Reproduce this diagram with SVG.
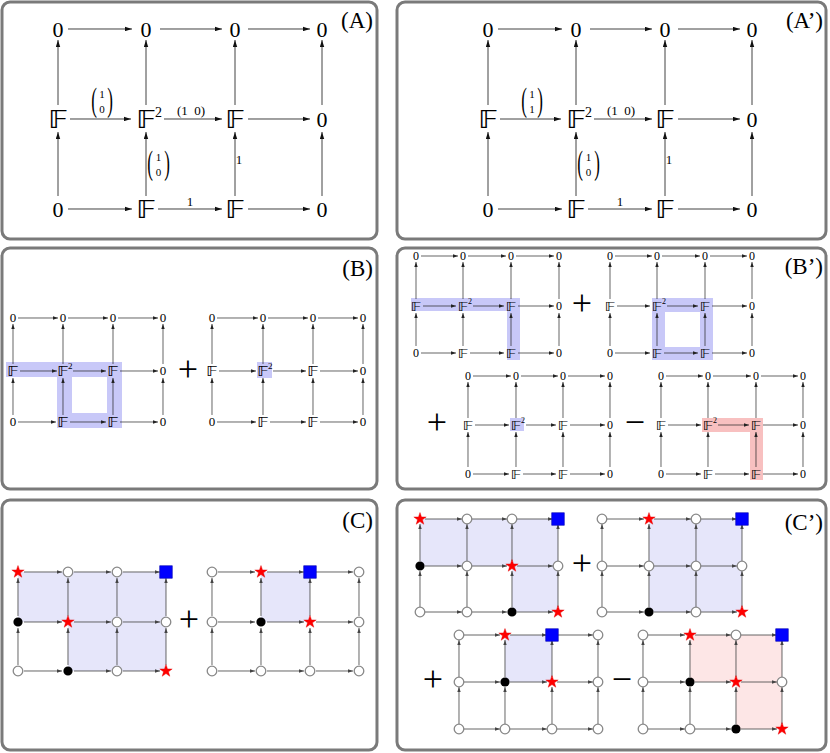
<svg xmlns="http://www.w3.org/2000/svg" xmlns:xlink="http://www.w3.org/1999/xlink" width="830" height="753" viewBox="0 0 830 753">
<defs>
<style>
text{fill:#000}
.box{fill:#fff;stroke:#7a7a7a;stroke-width:3}
.lbl{font-family:"Liberation Serif",serif;font-size:23px;text-anchor:end}
.n{font-family:"Liberation Serif",serif;font-size:22px;text-anchor:middle}
.f,.fs,.fs2{font-family:"DejaVu Sans","DejaVu Serif",serif;text-anchor:middle;transform-box:fill-box;transform-origin:center;transform:scaleX(1.25)}
.f{font-size:24px}
.fs{font-size:14px}
.fs2{font-size:13px}
.sup{font-family:"Liberation Serif",serif;font-size:14px}
.lab{font-family:"Liberation Serif",serif;font-size:13px;text-anchor:middle}
.par{font-family:"Liberation Serif",serif;font-size:17px;text-anchor:middle}
.cv{font-family:"Liberation Serif",serif;font-size:11px;text-anchor:middle}
.ns{font-family:"Liberation Serif",serif;font-size:13px;text-anchor:middle}
.sups{font-family:"Liberation Serif",serif;font-size:9px}
.ns2{font-family:"Liberation Serif",serif;font-size:12px;text-anchor:middle}
.sups2{font-family:"Liberation Serif",serif;font-size:8px}
.op{font-family:"Liberation Serif",serif;font-size:36px;text-anchor:middle}
.ca line{stroke:#111;stroke-width:0.8;marker-end:url(#ah)}
.cb line{stroke:#222;stroke-width:0.7;marker-end:url(#ahs)}
.cc line{stroke:#555;stroke-width:0.9;marker-end:url(#ahc)}
.hb{fill:#c8c8f8}
.hr{fill:#f8c0c0}
.sb{fill:#e6e6fa}
.sr{fill:#fde6e6}
</style>
<marker id="ah" markerWidth="7" markerHeight="5" refX="7" refY="2.5" orient="auto" markerUnits="userSpaceOnUse"><path d="M0,0.3 L7,2.5 L0,4.7 Z" fill="#111"/></marker>
<marker id="ahs" markerWidth="5" markerHeight="4" refX="5" refY="2" orient="auto" markerUnits="userSpaceOnUse"><path d="M0,0.3 L5,2 L0,3.7 Z" fill="#222"/></marker>
<marker id="ahc" markerWidth="5" markerHeight="4" refX="5" refY="2" orient="auto" markerUnits="userSpaceOnUse"><path d="M0,0.3 L5,2 L0,3.7 Z" fill="#444"/></marker>
<circle id="oc" r="4.8" fill="#fff" stroke="#888" stroke-width="1.3"/>
<circle id="bc" r="4.6" fill="#000"/>
<path id="st" d="M0,-6.5 L1.53,-2.1 L6.18,-2.01 L2.47,0.8 L3.82,5.26 L0,2.6 L-3.82,5.26 L-2.47,0.8 L-6.18,-2.01 L-1.53,-2.1 Z" fill="#f00" stroke="#d00" stroke-width="0.4"/>
<rect id="sq" x="-6.3" y="-6.3" width="12.6" height="12.6" fill="#0000ff" stroke="#0000b0" stroke-width="0.6"/>
</defs>
<g transform="rotate(0.001 415 376)">

<!-- Panel A -->
<g id="panelA">
<rect class="box" x="2" y="2" width="375" height="237" rx="8"/>
<text class="lbl" x="373" y="28">(A)</text>
<g id="A-connectors" class="ca">
<line x1="68" y1="29" x2="132" y2="29"/><line x1="160" y1="29" x2="222" y2="29"/><line x1="248" y1="29" x2="310" y2="29"/>
<line x1="70" y1="119" x2="131" y2="119"/><line x1="164" y1="119" x2="222" y2="119"/><line x1="248" y1="119" x2="310" y2="119"/>
<line x1="68" y1="209" x2="132" y2="209"/><line x1="158" y1="209" x2="222" y2="209"/><line x1="248" y1="209" x2="310" y2="209"/>
<line x1="58" y1="105" x2="58" y2="40"/><line x1="146" y1="105" x2="146" y2="40"/><line x1="235" y1="105" x2="235" y2="40"/><line x1="322" y1="105" x2="322" y2="40"/>
<line x1="58" y1="196" x2="58" y2="132"/><line x1="146" y1="196" x2="146" y2="132"/><line x1="235" y1="196" x2="235" y2="132"/><line x1="322" y1="196" x2="322" y2="132"/>
</g>
<g id="A-labels">
<text class="par" transform="translate(94,111) scale(1,2)">(</text><text class="par" transform="translate(110,111) scale(1,2)">)</text>
<text class="cv" x="102" y="98">1</text><text class="cv" x="102" y="113">0</text>
<text class="lab" x="191" y="115">(1&#160;&#160;0)</text>
<text class="par" transform="translate(150,174) scale(1,2)">(</text><text class="par" transform="translate(167,174) scale(1,2)">)</text>
<text class="cv" x="158.5" y="161">1</text><text class="cv" x="158.5" y="176">0</text>
<text class="lab" x="239" y="164">1</text>
<text class="lab" x="190" y="206">1</text>
</g>
<g id="A-n00"><text class="n" x="58" y="37">0</text></g>
<g id="A-n01"><text class="n" x="146" y="37">0</text></g>
<g id="A-n02"><text class="n" x="235" y="37">0</text></g>
<g id="A-n03"><text class="n" x="322" y="37">0</text></g>
<g id="A-n10"><text class="f" x="58" y="128">𝔽</text></g>
<g id="A-n11"><text class="f" x="146" y="128">𝔽</text><text class="sup" x="155" y="117">2</text></g>
<g id="A-n12"><text class="f" x="235" y="128">𝔽</text></g>
<g id="A-n13"><text class="n" x="322" y="127">0</text></g>
<g id="A-n20"><text class="n" x="58" y="217">0</text></g>
<g id="A-n21"><text class="f" x="146" y="218">𝔽</text></g>
<g id="A-n22"><text class="f" x="235" y="218">𝔽</text></g>
<g id="A-n23"><text class="n" x="322" y="217">0</text></g>
</g>

<!-- Panel A' -->
<g id="panelA2">
<rect class="box" x="397" y="2" width="429" height="237" rx="8"/>
<text class="lbl" x="823" y="28">(A’)</text>
<g transform="translate(430,0)">
<g id="A2-connectors" class="ca">
<line x1="68" y1="29" x2="132" y2="29"/><line x1="160" y1="29" x2="222" y2="29"/><line x1="248" y1="29" x2="310" y2="29"/>
<line x1="70" y1="119" x2="131" y2="119"/><line x1="164" y1="119" x2="222" y2="119"/><line x1="248" y1="119" x2="310" y2="119"/>
<line x1="68" y1="209" x2="132" y2="209"/><line x1="158" y1="209" x2="222" y2="209"/><line x1="248" y1="209" x2="310" y2="209"/>
<line x1="58" y1="105" x2="58" y2="40"/><line x1="146" y1="105" x2="146" y2="40"/><line x1="235" y1="105" x2="235" y2="40"/><line x1="322" y1="105" x2="322" y2="40"/>
<line x1="58" y1="196" x2="58" y2="132"/><line x1="146" y1="196" x2="146" y2="132"/><line x1="235" y1="196" x2="235" y2="132"/><line x1="322" y1="196" x2="322" y2="132"/>
</g>
<g id="A2-labels">
<text class="par" transform="translate(94,111) scale(1,2)">(</text><text class="par" transform="translate(110,111) scale(1,2)">)</text>
<text class="cv" x="102" y="98">1</text><text class="cv" x="102" y="113">1</text>
<text class="lab" x="191" y="115">(1&#160;&#160;0)</text>
<text class="par" transform="translate(150,174) scale(1,2)">(</text><text class="par" transform="translate(167,174) scale(1,2)">)</text>
<text class="cv" x="158.5" y="161">1</text><text class="cv" x="158.5" y="176">0</text>
<text class="lab" x="239" y="164">1</text>
<text class="lab" x="190" y="206">1</text>
</g>
<g id="A2-n00"><text class="n" x="58" y="37">0</text></g>
<g id="A2-n01"><text class="n" x="146" y="37">0</text></g>
<g id="A2-n02"><text class="n" x="235" y="37">0</text></g>
<g id="A2-n03"><text class="n" x="322" y="37">0</text></g>
<g id="A2-n10"><text class="f" x="58" y="128">𝔽</text></g>
<g id="A2-n11"><text class="f" x="146" y="128">𝔽</text><text class="sup" x="155" y="117">2</text></g>
<g id="A2-n12"><text class="f" x="235" y="128">𝔽</text></g>
<g id="A2-n13"><text class="n" x="322" y="127">0</text></g>
<g id="A2-n20"><text class="n" x="58" y="217">0</text></g>
<g id="A2-n21"><text class="f" x="146" y="218">𝔽</text></g>
<g id="A2-n22"><text class="f" x="235" y="218">𝔽</text></g>
<g id="A2-n23"><text class="n" x="322" y="217">0</text></g>
</g>
</g>

<!-- Panel B -->
<g id="panelB">
<rect class="box" x="2" y="248" width="375" height="241" rx="8"/>
<text class="lbl" x="373" y="276">(B)</text>
<path class="hb" fill-rule="evenodd" d="M6,362 H122 V428 H57 V377 H6 Z M72,377 V413 H107 V377 Z"/>
<rect class="hb" x="257" y="362" width="15" height="16"/>
<g id="B-connectors" class="cb">
<line x1="18" y1="318" x2="58" y2="318"/><line x1="68" y1="318" x2="108" y2="318"/><line x1="118" y1="318" x2="158" y2="318"/>
<line x1="20" y1="371" x2="57" y2="371"/><line x1="73" y1="371" x2="106" y2="371"/><line x1="120" y1="371" x2="158" y2="371"/>
<line x1="18" y1="422" x2="56" y2="422"/><line x1="70" y1="422" x2="106" y2="422"/><line x1="120" y1="422" x2="158" y2="422"/>
<line x1="13" y1="415" x2="13" y2="378"/><line x1="63" y1="415" x2="63" y2="378"/><line x1="113" y1="415" x2="113" y2="378"/><line x1="163" y1="415" x2="163" y2="378"/>
<line x1="13" y1="364" x2="13" y2="324"/><line x1="63" y1="364" x2="63" y2="324"/><line x1="113" y1="364" x2="113" y2="324"/><line x1="163" y1="364" x2="163" y2="324"/>
<line x1="217" y1="318" x2="258" y2="318"/><line x1="268" y1="318" x2="308" y2="318"/><line x1="318" y1="318" x2="358" y2="318"/>
<line x1="219" y1="371" x2="256" y2="371"/><line x1="273" y1="371" x2="306" y2="371"/><line x1="320" y1="371" x2="358" y2="371"/>
<line x1="217" y1="422" x2="256" y2="422"/><line x1="270" y1="422" x2="306" y2="422"/><line x1="320" y1="422" x2="358" y2="422"/>
<line x1="212" y1="415" x2="212" y2="378"/><line x1="263" y1="415" x2="263" y2="378"/><line x1="313" y1="415" x2="313" y2="378"/><line x1="363" y1="415" x2="363" y2="378"/>
<line x1="212" y1="364" x2="212" y2="324"/><line x1="263" y1="364" x2="263" y2="324"/><line x1="313" y1="364" x2="313" y2="324"/><line x1="363" y1="364" x2="363" y2="324"/>
</g>
<g id="B1-n00"><text class="ns" x="13" y="322.5">0</text></g>
<g id="B1-n01"><text class="ns" x="63" y="322.5">0</text></g>
<g id="B1-n02"><text class="ns" x="113" y="322.5">0</text></g>
<g id="B1-n03"><text class="ns" x="163" y="322.5">0</text></g>
<g id="B1-n10"><text class="fs" x="13" y="376">𝔽</text></g>
<g id="B1-n11"><text class="fs" x="63" y="376">𝔽</text><text class="sups" x="68" y="369">2</text></g>
<g id="B1-n12"><text class="fs" x="113" y="376">𝔽</text></g>
<g id="B1-n13"><text class="ns" x="163" y="375.5">0</text></g>
<g id="B1-n20"><text class="ns" x="13" y="426.5">0</text></g>
<g id="B1-n21"><text class="fs" x="63" y="427">𝔽</text></g>
<g id="B1-n22"><text class="fs" x="113" y="427">𝔽</text></g>
<g id="B1-n23"><text class="ns" x="163" y="426.5">0</text></g>
<text class="op" x="188" y="381">+</text>
<g id="B2-n00"><text class="ns" x="212" y="322.5">0</text></g>
<g id="B2-n01"><text class="ns" x="263" y="322.5">0</text></g>
<g id="B2-n02"><text class="ns" x="313" y="322.5">0</text></g>
<g id="B2-n03"><text class="ns" x="363" y="322.5">0</text></g>
<g id="B2-n10"><text class="fs" x="212" y="376">𝔽</text></g>
<g id="B2-n11"><text class="fs" x="263" y="376">𝔽</text><text class="sups" x="268" y="369">2</text></g>
<g id="B2-n12"><text class="fs" x="313" y="376">𝔽</text></g>
<g id="B2-n13"><text class="ns" x="363" y="375.5">0</text></g>
<g id="B2-n20"><text class="ns" x="212" y="426.5">0</text></g>
<g id="B2-n21"><text class="fs" x="263" y="427">𝔽</text></g>
<g id="B2-n22"><text class="fs" x="313" y="427">𝔽</text></g>
<g id="B2-n23"><text class="ns" x="363" y="426.5">0</text></g>
</g>

<!-- Panel B' -->
<g id="panelB2">
<rect class="box" x="397" y="248" width="429" height="241" rx="8"/>
<text class="lbl" x="823" y="274">(B’)</text>
<path class="hb" d="M411,298 H520 V360 H507 V311 H411 Z"/>
<path class="hb" fill-rule="evenodd" d="M652,298 H713 V360 H652 Z M665,312 V347 H700 V312 Z"/>
<rect class="hb" x="510" y="418" width="14" height="13"/>
<path class="hr" d="M702,418 H763 V480 H750 V432 H702 Z"/>
<g id="B2-connectors" class="cb">
<line x1="421" y1="256" x2="458" y2="256"/><line x1="468" y1="256" x2="506" y2="256"/><line x1="516" y1="256" x2="554" y2="256"/>
<line x1="423" y1="306" x2="456" y2="306"/><line x1="473" y1="306" x2="504" y2="306"/><line x1="518" y1="306" x2="554" y2="306"/>
<line x1="421" y1="353" x2="456" y2="353"/><line x1="470" y1="353" x2="504" y2="353"/><line x1="518" y1="353" x2="554" y2="353"/>
<line x1="416" y1="346" x2="416" y2="313"/><line x1="463" y1="346" x2="463" y2="313"/><line x1="511" y1="346" x2="511" y2="313"/><line x1="559" y1="346" x2="559" y2="313"/>
<line x1="416" y1="299" x2="416" y2="262"/><line x1="463" y1="299" x2="463" y2="262"/><line x1="511" y1="299" x2="511" y2="262"/><line x1="559" y1="299" x2="559" y2="262"/>
<line x1="615" y1="256" x2="652" y2="256"/><line x1="662" y1="256" x2="700" y2="256"/><line x1="710" y1="256" x2="747" y2="256"/>
<line x1="617" y1="306" x2="650" y2="306"/><line x1="667" y1="306" x2="698" y2="306"/><line x1="712" y1="306" x2="747" y2="306"/>
<line x1="615" y1="353" x2="650" y2="353"/><line x1="664" y1="353" x2="698" y2="353"/><line x1="712" y1="353" x2="747" y2="353"/>
<line x1="610" y1="346" x2="610" y2="313"/><line x1="657" y1="346" x2="657" y2="313"/><line x1="705" y1="346" x2="705" y2="313"/><line x1="752" y1="346" x2="752" y2="313"/>
<line x1="610" y1="299" x2="610" y2="262"/><line x1="657" y1="299" x2="657" y2="262"/><line x1="705" y1="299" x2="705" y2="262"/><line x1="752" y1="299" x2="752" y2="262"/>
<line x1="473" y1="376" x2="511" y2="376"/><line x1="521" y1="376" x2="558" y2="376"/><line x1="568" y1="376" x2="605" y2="376"/>
<line x1="475" y1="425" x2="509" y2="425"/><line x1="526" y1="425" x2="556" y2="425"/><line x1="570" y1="425" x2="605" y2="425"/>
<line x1="473" y1="474" x2="509" y2="474"/><line x1="523" y1="474" x2="556" y2="474"/><line x1="570" y1="474" x2="605" y2="474"/>
<line x1="468" y1="467" x2="468" y2="432"/><line x1="516" y1="467" x2="516" y2="432"/><line x1="563" y1="467" x2="563" y2="432"/><line x1="610" y1="467" x2="610" y2="432"/>
<line x1="468" y1="418" x2="468" y2="382"/><line x1="516" y1="418" x2="516" y2="382"/><line x1="563" y1="418" x2="563" y2="382"/><line x1="610" y1="418" x2="610" y2="382"/>
<line x1="666" y1="376" x2="703" y2="376"/><line x1="713" y1="376" x2="751" y2="376"/><line x1="761" y1="376" x2="798" y2="376"/>
<line x1="668" y1="425" x2="701" y2="425"/><line x1="718" y1="425" x2="749" y2="425"/><line x1="763" y1="425" x2="798" y2="425"/>
<line x1="666" y1="474" x2="701" y2="474"/><line x1="715" y1="474" x2="749" y2="474"/><line x1="763" y1="474" x2="798" y2="474"/>
<line x1="661" y1="467" x2="661" y2="432"/><line x1="708" y1="467" x2="708" y2="432"/><line x1="756" y1="467" x2="756" y2="432"/><line x1="803" y1="467" x2="803" y2="432"/>
<line x1="661" y1="418" x2="661" y2="382"/><line x1="708" y1="418" x2="708" y2="382"/><line x1="756" y1="418" x2="756" y2="382"/><line x1="803" y1="418" x2="803" y2="382"/>
</g>
<g id="B3-n00"><text class="ns2" x="416" y="260">0</text></g>
<g id="B3-n01"><text class="ns2" x="463" y="260">0</text></g>
<g id="B3-n02"><text class="ns2" x="511" y="260">0</text></g>
<g id="B3-n03"><text class="ns2" x="559" y="260">0</text></g>
<g id="B3-n10"><text class="fs2" x="416" y="311">𝔽</text></g>
<g id="B3-n11"><text class="fs2" x="463" y="311">𝔽</text><text class="sups2" x="468" y="304">2</text></g>
<g id="B3-n12"><text class="fs2" x="511" y="311">𝔽</text></g>
<g id="B3-n13"><text class="ns2" x="559" y="310">0</text></g>
<g id="B3-n20"><text class="ns2" x="416" y="357">0</text></g>
<g id="B3-n21"><text class="fs2" x="463" y="358">𝔽</text></g>
<g id="B3-n22"><text class="fs2" x="511" y="358">𝔽</text></g>
<g id="B3-n23"><text class="ns2" x="559" y="357">0</text></g>
<text class="op" x="582" y="315">+</text>
<g id="B4-n00"><text class="ns2" x="610" y="260">0</text></g>
<g id="B4-n01"><text class="ns2" x="657" y="260">0</text></g>
<g id="B4-n02"><text class="ns2" x="705" y="260">0</text></g>
<g id="B4-n03"><text class="ns2" x="752" y="260">0</text></g>
<g id="B4-n10"><text class="fs2" x="610" y="311">𝔽</text></g>
<g id="B4-n11"><text class="fs2" x="657" y="311">𝔽</text><text class="sups2" x="662" y="304">2</text></g>
<g id="B4-n12"><text class="fs2" x="705" y="311">𝔽</text></g>
<g id="B4-n13"><text class="ns2" x="752" y="310">0</text></g>
<g id="B4-n20"><text class="ns2" x="610" y="357">0</text></g>
<g id="B4-n21"><text class="fs2" x="657" y="358">𝔽</text></g>
<g id="B4-n22"><text class="fs2" x="705" y="358">𝔽</text></g>
<g id="B4-n23"><text class="ns2" x="752" y="357">0</text></g>
<text class="op" x="437" y="434">+</text>
<g id="B5-n00"><text class="ns2" x="468" y="380">0</text></g>
<g id="B5-n01"><text class="ns2" x="516" y="380">0</text></g>
<g id="B5-n02"><text class="ns2" x="563" y="380">0</text></g>
<g id="B5-n03"><text class="ns2" x="610" y="380">0</text></g>
<g id="B5-n10"><text class="fs2" x="468" y="430">𝔽</text></g>
<g id="B5-n11"><text class="fs2" x="516" y="430">𝔽</text><text class="sups2" x="521" y="423">2</text></g>
<g id="B5-n12"><text class="fs2" x="563" y="430">𝔽</text></g>
<g id="B5-n13"><text class="ns2" x="610" y="429">0</text></g>
<g id="B5-n20"><text class="ns2" x="468" y="478">0</text></g>
<g id="B5-n21"><text class="fs2" x="516" y="479">𝔽</text></g>
<g id="B5-n22"><text class="fs2" x="563" y="479">𝔽</text></g>
<g id="B5-n23"><text class="ns2" x="610" y="478">0</text></g>
<text class="op" x="635" y="434">−</text>
<g id="B6-n00"><text class="ns2" x="661" y="380">0</text></g>
<g id="B6-n01"><text class="ns2" x="708" y="380">0</text></g>
<g id="B6-n02"><text class="ns2" x="756" y="380">0</text></g>
<g id="B6-n03"><text class="ns2" x="803" y="380">0</text></g>
<g id="B6-n10"><text class="fs2" x="661" y="430">𝔽</text></g>
<g id="B6-n11"><text class="fs2" x="708" y="430">𝔽</text><text class="sups2" x="713" y="423">2</text></g>
<g id="B6-n12"><text class="fs2" x="756" y="430">𝔽</text></g>
<g id="B6-n13"><text class="ns2" x="803" y="429">0</text></g>
<g id="B6-n20"><text class="ns2" x="661" y="478">0</text></g>
<g id="B6-n21"><text class="fs2" x="708" y="479">𝔽</text></g>
<g id="B6-n22"><text class="fs2" x="756" y="479">𝔽</text></g>
<g id="B6-n23"><text class="ns2" x="803" y="478">0</text></g>
</g>

<!-- Panel C -->
<g id="panelC">
<rect class="box" x="2" y="500" width="375" height="250" rx="8"/>
<text class="lbl" x="373" y="528">(C)</text>
<path class="sb" d="M18,572 H166 V671 H68 V622 H18 Z"/>
<rect class="sb" x="261" y="572" width="49" height="50"/>
<g id="C-connectors" class="cc">
<line x1="24" y1="572" x2="62" y2="572"/><line x1="74" y1="572" x2="111" y2="572"/><line x1="123" y1="572" x2="160" y2="572"/>
<line x1="24" y1="622" x2="62" y2="622"/><line x1="74" y1="622" x2="111" y2="622"/><line x1="123" y1="622" x2="160" y2="622"/>
<line x1="24" y1="671" x2="62" y2="671"/><line x1="74" y1="671" x2="111" y2="671"/><line x1="123" y1="671" x2="160" y2="671"/>
<line x1="18" y1="616" x2="18" y2="578"/><line x1="68" y1="616" x2="68" y2="578"/><line x1="117" y1="616" x2="117" y2="578"/><line x1="166" y1="616" x2="166" y2="578"/>
<line x1="18" y1="665" x2="18" y2="628"/><line x1="68" y1="665" x2="68" y2="628"/><line x1="117" y1="665" x2="117" y2="628"/><line x1="166" y1="665" x2="166" y2="628"/>
<line x1="218" y1="572" x2="255" y2="572"/><line x1="267" y1="572" x2="304" y2="572"/><line x1="316" y1="572" x2="353" y2="572"/>
<line x1="218" y1="622" x2="255" y2="622"/><line x1="267" y1="622" x2="304" y2="622"/><line x1="316" y1="622" x2="353" y2="622"/>
<line x1="218" y1="671" x2="255" y2="671"/><line x1="267" y1="671" x2="304" y2="671"/><line x1="316" y1="671" x2="353" y2="671"/>
<line x1="212" y1="616" x2="212" y2="578"/><line x1="261" y1="616" x2="261" y2="578"/><line x1="310" y1="616" x2="310" y2="578"/><line x1="359" y1="616" x2="359" y2="578"/>
<line x1="212" y1="665" x2="212" y2="628"/><line x1="261" y1="665" x2="261" y2="628"/><line x1="310" y1="665" x2="310" y2="628"/><line x1="359" y1="665" x2="359" y2="628"/>
</g>
<g id="C1-n00"><use xlink:href="#st" x="18" y="572"/></g>
<g id="C1-n01"><use xlink:href="#oc" x="68" y="572"/></g>
<g id="C1-n02"><use xlink:href="#oc" x="117" y="572"/></g>
<g id="C1-n03"><use xlink:href="#sq" x="166" y="572"/></g>
<g id="C1-n10"><use xlink:href="#bc" x="18" y="622"/></g>
<g id="C1-n11"><use xlink:href="#st" x="68" y="622"/></g>
<g id="C1-n12"><use xlink:href="#oc" x="117" y="622"/></g>
<g id="C1-n13"><use xlink:href="#oc" x="166" y="622"/></g>
<g id="C1-n20"><use xlink:href="#oc" x="18" y="671"/></g>
<g id="C1-n21"><use xlink:href="#bc" x="68" y="671"/></g>
<g id="C1-n22"><use xlink:href="#oc" x="117" y="671"/></g>
<g id="C1-n23"><use xlink:href="#st" x="166" y="671"/></g>
<text class="op" x="189" y="631">+</text>
<g id="C2-n00"><use xlink:href="#oc" x="212" y="572"/></g>
<g id="C2-n01"><use xlink:href="#st" x="261" y="572"/></g>
<g id="C2-n02"><use xlink:href="#sq" x="310" y="572"/></g>
<g id="C2-n03"><use xlink:href="#oc" x="359" y="572"/></g>
<g id="C2-n10"><use xlink:href="#oc" x="212" y="622"/></g>
<g id="C2-n11"><use xlink:href="#bc" x="261" y="622"/></g>
<g id="C2-n12"><use xlink:href="#st" x="310" y="622"/></g>
<g id="C2-n13"><use xlink:href="#oc" x="359" y="622"/></g>
<g id="C2-n20"><use xlink:href="#oc" x="212" y="671"/></g>
<g id="C2-n21"><use xlink:href="#oc" x="261" y="671"/></g>
<g id="C2-n22"><use xlink:href="#oc" x="310" y="671"/></g>
<g id="C2-n23"><use xlink:href="#oc" x="359" y="671"/></g>
</g>

<!-- Panel C' -->
<g id="panelC2">
<rect class="box" x="397" y="500" width="429" height="250" rx="8"/>
<text class="lbl" x="823" y="530">(C’)</text>
<path class="sb" d="M420,519 H558 V612 H512 V566 H420 Z"/>
<rect class="sb" x="649" y="519" width="93" height="93"/>
<rect class="sb" x="505" y="635" width="47" height="47"/>
<path class="sr" d="M690,635 H782 V729 H736 V682 H690 Z"/>
<g id="C2-connectors" class="cc">
<line x1="425" y1="519" x2="462" y2="519"/><line x1="472" y1="519" x2="507" y2="519"/><line x1="517" y1="519" x2="553" y2="519"/>
<line x1="425" y1="566" x2="462" y2="566"/><line x1="472" y1="566" x2="507" y2="566"/><line x1="517" y1="566" x2="553" y2="566"/>
<line x1="425" y1="612" x2="462" y2="612"/><line x1="472" y1="612" x2="507" y2="612"/><line x1="517" y1="612" x2="553" y2="612"/>
<line x1="420" y1="561" x2="420" y2="524"/><line x1="467" y1="561" x2="467" y2="524"/><line x1="512" y1="561" x2="512" y2="524"/><line x1="558" y1="561" x2="558" y2="524"/>
<line x1="420" y1="607" x2="420" y2="571"/><line x1="467" y1="607" x2="467" y2="571"/><line x1="512" y1="607" x2="512" y2="571"/><line x1="558" y1="607" x2="558" y2="571"/>
<line x1="607" y1="519" x2="644" y2="519"/><line x1="654" y1="519" x2="691" y2="519"/><line x1="701" y1="519" x2="737" y2="519"/>
<line x1="607" y1="566" x2="644" y2="566"/><line x1="654" y1="566" x2="691" y2="566"/><line x1="701" y1="566" x2="737" y2="566"/>
<line x1="607" y1="612" x2="644" y2="612"/><line x1="654" y1="612" x2="691" y2="612"/><line x1="701" y1="612" x2="737" y2="612"/>
<line x1="602" y1="561" x2="602" y2="524"/><line x1="649" y1="561" x2="649" y2="524"/><line x1="696" y1="561" x2="696" y2="524"/><line x1="742" y1="561" x2="742" y2="524"/>
<line x1="602" y1="607" x2="602" y2="571"/><line x1="649" y1="607" x2="649" y2="571"/><line x1="696" y1="607" x2="696" y2="571"/><line x1="742" y1="607" x2="742" y2="571"/>
<line x1="464" y1="635" x2="500" y2="635"/><line x1="510" y1="635" x2="547" y2="635"/><line x1="557" y1="635" x2="593" y2="635"/>
<line x1="464" y1="682" x2="500" y2="682"/><line x1="510" y1="682" x2="547" y2="682"/><line x1="557" y1="682" x2="593" y2="682"/>
<line x1="464" y1="729" x2="500" y2="729"/><line x1="510" y1="729" x2="547" y2="729"/><line x1="557" y1="729" x2="593" y2="729"/>
<line x1="459" y1="677" x2="459" y2="640"/><line x1="505" y1="677" x2="505" y2="640"/><line x1="552" y1="677" x2="552" y2="640"/><line x1="598" y1="677" x2="598" y2="640"/>
<line x1="459" y1="724" x2="459" y2="687"/><line x1="505" y1="724" x2="505" y2="687"/><line x1="552" y1="724" x2="552" y2="687"/><line x1="598" y1="724" x2="598" y2="687"/>
<line x1="648" y1="635" x2="685" y2="635"/><line x1="695" y1="635" x2="731" y2="635"/><line x1="741" y1="635" x2="777" y2="635"/>
<line x1="648" y1="682" x2="685" y2="682"/><line x1="695" y1="682" x2="731" y2="682"/><line x1="741" y1="682" x2="777" y2="682"/>
<line x1="648" y1="729" x2="685" y2="729"/><line x1="695" y1="729" x2="731" y2="729"/><line x1="741" y1="729" x2="777" y2="729"/>
<line x1="643" y1="677" x2="643" y2="640"/><line x1="690" y1="677" x2="690" y2="640"/><line x1="736" y1="677" x2="736" y2="640"/><line x1="782" y1="677" x2="782" y2="640"/>
<line x1="643" y1="724" x2="643" y2="687"/><line x1="690" y1="724" x2="690" y2="687"/><line x1="736" y1="724" x2="736" y2="687"/><line x1="782" y1="724" x2="782" y2="687"/>
</g>
<g id="C3-n00"><use xlink:href="#st" x="420" y="519"/></g>
<g id="C3-n01"><use xlink:href="#oc" x="467" y="519"/></g>
<g id="C3-n02"><use xlink:href="#oc" x="512" y="519"/></g>
<g id="C3-n03"><use xlink:href="#sq" x="558" y="519"/></g>
<g id="C3-n10"><use xlink:href="#bc" x="420" y="566"/></g>
<g id="C3-n11"><use xlink:href="#oc" x="467" y="566"/></g>
<g id="C3-n12"><use xlink:href="#st" x="512" y="566"/></g>
<g id="C3-n13"><use xlink:href="#oc" x="558" y="566"/></g>
<g id="C3-n20"><use xlink:href="#oc" x="420" y="612"/></g>
<g id="C3-n21"><use xlink:href="#oc" x="467" y="612"/></g>
<g id="C3-n22"><use xlink:href="#bc" x="512" y="612"/></g>
<g id="C3-n23"><use xlink:href="#st" x="558" y="612"/></g>
<text class="op" x="582" y="575">+</text>
<g id="C4-n00"><use xlink:href="#oc" x="602" y="519"/></g>
<g id="C4-n01"><use xlink:href="#st" x="649" y="519"/></g>
<g id="C4-n02"><use xlink:href="#oc" x="696" y="519"/></g>
<g id="C4-n03"><use xlink:href="#sq" x="742" y="519"/></g>
<g id="C4-n10"><use xlink:href="#oc" x="602" y="566"/></g>
<g id="C4-n11"><use xlink:href="#oc" x="649" y="566"/></g>
<g id="C4-n12"><use xlink:href="#oc" x="696" y="566"/></g>
<g id="C4-n13"><use xlink:href="#oc" x="742" y="566"/></g>
<g id="C4-n20"><use xlink:href="#oc" x="602" y="612"/></g>
<g id="C4-n21"><use xlink:href="#bc" x="649" y="612"/></g>
<g id="C4-n22"><use xlink:href="#oc" x="696" y="612"/></g>
<g id="C4-n23"><use xlink:href="#st" x="742" y="612"/></g>
<text class="op" x="433" y="691">+</text>
<g id="C5-n00"><use xlink:href="#oc" x="459" y="635"/></g>
<g id="C5-n01"><use xlink:href="#st" x="505" y="635"/></g>
<g id="C5-n02"><use xlink:href="#sq" x="552" y="635"/></g>
<g id="C5-n03"><use xlink:href="#oc" x="598" y="635"/></g>
<g id="C5-n10"><use xlink:href="#oc" x="459" y="682"/></g>
<g id="C5-n11"><use xlink:href="#bc" x="505" y="682"/></g>
<g id="C5-n12"><use xlink:href="#st" x="552" y="682"/></g>
<g id="C5-n13"><use xlink:href="#oc" x="598" y="682"/></g>
<g id="C5-n20"><use xlink:href="#oc" x="459" y="729"/></g>
<g id="C5-n21"><use xlink:href="#oc" x="505" y="729"/></g>
<g id="C5-n22"><use xlink:href="#oc" x="552" y="729"/></g>
<g id="C5-n23"><use xlink:href="#oc" x="598" y="729"/></g>
<text class="op" x="622" y="691">−</text>
<g id="C6-n00"><use xlink:href="#oc" x="643" y="635"/></g>
<g id="C6-n01"><use xlink:href="#st" x="690" y="635"/></g>
<g id="C6-n02"><use xlink:href="#oc" x="736" y="635"/></g>
<g id="C6-n03"><use xlink:href="#sq" x="782" y="635"/></g>
<g id="C6-n10"><use xlink:href="#oc" x="643" y="682"/></g>
<g id="C6-n11"><use xlink:href="#bc" x="690" y="682"/></g>
<g id="C6-n12"><use xlink:href="#st" x="736" y="682"/></g>
<g id="C6-n13"><use xlink:href="#oc" x="782" y="682"/></g>
<g id="C6-n20"><use xlink:href="#oc" x="643" y="729"/></g>
<g id="C6-n21"><use xlink:href="#oc" x="690" y="729"/></g>
<g id="C6-n22"><use xlink:href="#bc" x="736" y="729"/></g>
<g id="C6-n23"><use xlink:href="#st" x="782" y="729"/></g>
</g>
</g>
</svg>
